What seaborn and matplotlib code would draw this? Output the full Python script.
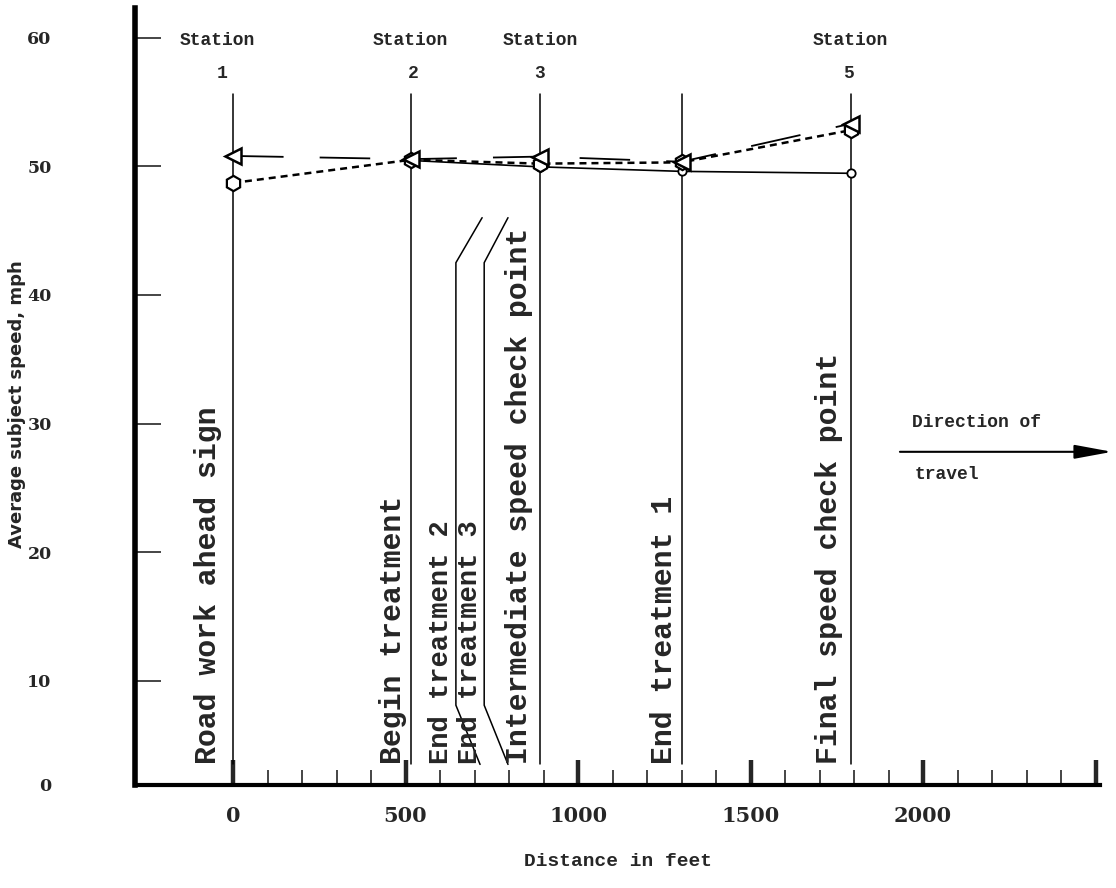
import matplotlib
matplotlib.use('Agg')
import matplotlib.pyplot as plt
from matplotlib.ticker import FixedLocator
import seaborn as sns

# stations along the road (feet) and average speeds (mph)
station_ft = [0, 515, 890, 1300, 1790]
speed_triangle = [50.8, 50.55, 50.75, 50.35, 53.3]
speed_hexagon = [48.7, 50.5, 50.2, 50.3, 52.8]
circle_ft = [515, 890, 1300, 1790]
speed_circle = [50.45, 49.95, 49.6, 49.45]

station_names = ['1', '2', '3', '5']
station_label_ft = [-45, 515, 890, 1790]
station_num_ft = [-32, 522, 890, 1783]

landmarks = ['Road work ahead sign', 'Begin treatment', 'End treatment 2',
             'End treatment 3', 'Intermediate speed check point',
             'End treatment 1', 'Final speed check point']
landmark_ft = [-72, 464, 604, 688, 830, 1250, 1726]
landmark_size = [21.5, 21.5, 19.5, 19.5, 21.5, 21.5, 21.5]

x_ticks = [0, 500, 1000, 1500, 2000, 2500]
x_tick_labels = ['0', '500', '1000', '1500', '2000', '']
y_bottom = 1.9
y_ticks = [y_bottom, 10, 20, 30, 40, 50, 60]
y_tick_labels = ['0', '10', '20', '30', '40', '50', '60']

sns.set_style('white')
plt.rcParams['font.family'] = ['DejaVu Sans']

fig = plt.figure(figsize=(11.16, 8.88), dpi=100)
ax = fig.add_axes([0.121, 0.116, 0.8647, 0.875])

# vertical station lines
for xf in station_ft:
    ax.plot([xf, xf], [3.5, 55.6], color='black', lw=1.1)

# leader lines for end treatment 2 and 3
ax.plot([722, 646, 646, 716], [46.0, 42.5, 8.1, 3.5], color='black', lw=1.1)
ax.plot([797, 728, 728, 797], [46.0, 42.5, 8.1, 3.5], color='black', lw=1.1)

sns.lineplot(x=circle_ft, y=speed_circle, ax=ax, color='black', lw=1.2,
             marker='o', ms=6, mfc='white', mec='black', mew=1.3)
sns.lineplot(x=station_ft, y=speed_hexagon, ax=ax, color='black', lw=1.8,
             linestyle=(0, (2.8, 2.0)),
             marker='h', ms=11, mfc='white', mec='black', mew=1.6)
sns.lineplot(x=station_ft, y=speed_triangle, ax=ax, color='black', lw=1.3,
             linestyle=(0, (28, 20)),
             marker='<', ms=11, mfc='white', mec='black', mew=1.8)

mono = 'Liberation Mono'
for name, lx, nx in zip(station_names, station_label_ft, station_num_ft):
    ax.text(lx, 59.8, 'Station', ha='center', va='center', fontsize=13,
            family=mono, weight='bold')
    ax.text(nx, 57.2, name, ha='center', va='center', fontsize=13,
            family=mono, weight='bold')

for label, lx, fs in zip(landmarks, landmark_ft, landmark_size):
    ax.text(lx, 3.5, label, rotation=90, ha='center', va='bottom',
            fontsize=fs, family=mono, weight='bold')

# direction of travel
ax.text(1968, 30.1, 'Direction of', ha='left', va='center', fontsize=13,
        family=mono, weight='bold')
ax.text(1977, 26.0, 'travel', ha='left', va='center', fontsize=13,
        family=mono, weight='bold')
ax.annotate('', xy=(2548, 27.8), xytext=(1933, 27.8), annotation_clip=False,
            arrowprops=dict(arrowstyle='-|>,head_length=0.92,head_width=0.17',
                            mutation_scale=25, lw=1.5, color='black',
                            shrinkA=0, shrinkB=0))

ax.set_xlim(-284, 2513)
ax.set_ylim(y_bottom, 62.3)

ax.xaxis.set_major_locator(FixedLocator(x_ticks))
ax.set_xticklabels(x_tick_labels)
ax.xaxis.set_minor_locator(FixedLocator(list(range(100, 2500, 100))))
ax.set_yticks(y_ticks)
ax.set_yticklabels(y_tick_labels)

ax.tick_params(axis='x', which='major', direction='in', length=18, width=3.2,
               pad=15, labelsize=15, bottom=True)
ax.tick_params(axis='x', which='minor', direction='in', length=11, width=1.2,
               bottom=True)
ax.tick_params(axis='y', direction='in', length=19, width=1.2, pad=60,
               labelsize=12.5, left=True)
for lab in ax.get_xticklabels() + ax.get_yticklabels():
    lab.set_family('DejaVu Serif')
    lab.set_weight('bold')

for side in ['top', 'right']:
    ax.spines[side].set_visible(False)
ax.spines['left'].set_linewidth(4)
ax.spines['bottom'].set_linewidth(3)
ax.spines['left'].set_color('black')
ax.spines['bottom'].set_color('black')

ax.set_xlabel('Distance in feet', family=mono, fontsize=14, weight='bold')
ax.xaxis.set_label_coords(0.5, -0.0875)
ax.set_ylabel('Average subject speed, mph', fontsize=13, weight='bold')
ax.yaxis.set_label_coords(-0.113, 0.49)

fig.savefig('out.png', dpi=100, facecolor='white')
